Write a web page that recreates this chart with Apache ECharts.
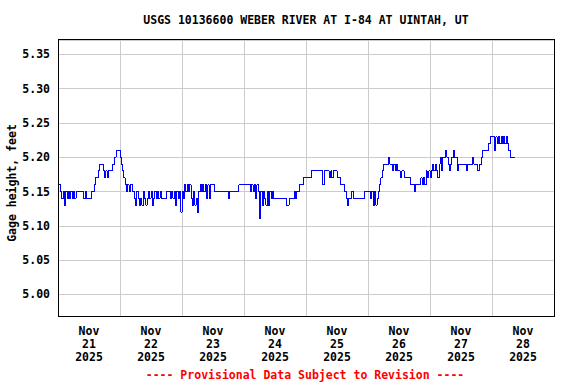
<!DOCTYPE html>
<html><head><meta charset="utf-8">
<script src="https://cdn.jsdelivr.net/npm/echarts@6/dist/echarts.min.js"></script>
<style>html,body{margin:0;padding:0;background:#fff}#c{width:576px;height:384px}#c svg path{shape-rendering:crispEdges}</style>
</head><body><div id="c"></div>
<script>
const chartTitle = 'USGS 10136600 WEBER RIVER AT I-84 AT UINTAH, UT';
const yAxisTitle = 'Gage height, feet';
const footerText = '---- Provisional Data Subject to Revision ----';
const dayLabels = ['Nov\n21\n2025','Nov\n22\n2025','Nov\n23\n2025','Nov\n24\n2025','Nov\n25\n2025','Nov\n26\n2025','Nov\n27\n2025','Nov\n28\n2025'];
// half-hourly gage height (ft), one array per day starting at 00:00
const nov21 = [5.16,5.16,5.15,5.14,5.15,5.13,5.15,5.14,5.15,5.14, 5.15,5.14,5.15,5.14,5.15,5.15,5.15,5.15,5.15,5.15, 5.14,5.15,5.14,5.14,5.14,5.14,5.15,5.15,5.16,5.17, 5.17,5.18,5.19,5.19,5.19,5.18,5.17,5.18,5.17,5.18, 5.18,5.18,5.19,5.19,5.20,5.21,5.21,5.21];
const nov22 = [5.20,5.19,5.18,5.17,5.16,5.15,5.16,5.15,5.16,5.16, 5.15,5.14,5.13,5.15,5.14,5.13,5.14,5.13,5.15,5.14, 5.13,5.14,5.15,5.14,5.15,5.13,5.14,5.15,5.14,5.15, 5.14,5.15,5.14,5.14,5.14,5.14,5.15,5.15,5.15,5.14, 5.15,5.14,5.15,5.13,5.15,5.14,5.15,5.12];
const nov23 = [5.15,5.14,5.16,5.15,5.16,5.15,5.16, 5.14,5.13,5.15,5.13,5.14,5.12,5.15, 5.16,5.15,5.16,5.15,5.16,5.14,5.16,5.14,5.16, 5.16,5.16, 5.15,5.15,5.15,5.15,5.15,5.15,5.15,5.15,5.15,5.15,5.15, 5.14,5.15, 5.15,5.15,5.15,5.15,5.15,5.15, 5.16,5.16,5.16,5.16];
const nov24 = [5.16,5.16,5.16,5.16,5.16, 5.15,5.16,5.15,5.16,5.14,5.16,5.15, 5.11, 5.15,5.13,5.15,5.14,5.13,5.15,5.13,5.15,5.14,5.15,5.14, 5.14,5.14,5.14,5.14,5.14,5.14,5.14,5.14,5.14, 5.13,5.13, 5.14,5.14,5.14,5.14, 5.15,5.14, 5.15,5.15, 5.16,5.16,5.16, 5.17,5.17];
const nov25 = [5.17,5.17,5.17,5.17, 5.18,5.18,5.18,5.18,5.18,5.18,5.18,5.18,5.18,5.16,5.18,5.18,5.18,5.18,5.17,5.18,5.17,5.18,5.18,5.18, 5.17,5.17,5.17, 5.16,5.16,5.16, 5.15, 5.14,5.13, 5.14,5.14, 5.15,5.15, 5.14,5.14,5.14,5.14,5.14,5.14,5.14,5.14, 5.15,5.15,5.15];
const nov26 = [5.15,5.15,5.14,5.15,5.13,5.15,5.13,5.14,5.15, 5.16, 5.17, 5.18, 5.19,5.19,5.19,5.19, 5.20, 5.19,5.19, 5.18, 5.19, 5.18,5.19,5.18, 5.18,5.17,5.18,5.18,5.17, 5.17,5.17,5.17,5.17, 5.16,5.16,5.16, 5.15, 5.16,5.16,5.16,5.16, 5.17,5.16,5.17,5.16, 5.18,5.17,5.18];
const nov27 = [5.17,5.18, 5.19,5.18,5.19,5.18,5.17, 5.19,5.20, 5.18,5.20, 5.20,5.21, 5.20,5.19, 5.18, 5.19, 5.20,5.21,5.20, 5.20, 5.18,5.19, 5.19,5.19,5.19,5.19,5.19,5.18,5.19,5.19,5.19,5.19,5.20,5.19,5.19,5.19,5.18,5.19,5.19, 5.20, 5.21,5.21,5.21,5.21, 5.22,5.22, 5.23];
const nov28 = [5.23,5.23, 5.21, 5.23,5.22,5.23,5.22,5.23,5.22,5.23,5.22,5.23, 5.22, 5.21,5.20,5.20,5.20,5.20,5.20];
const days = [nov21, nov22, nov23, nov24, nov25, nov26, nov27, nov28];
const sampleHours = 0.5;

const series = [];
days.forEach((arr, d) => arr.forEach((v, i) => series.push([d * 24 + i * sampleHours, v])));

const FONT = '"DejaVu Sans Mono", monospace';
const chart = echarts.init(document.getElementById('c'), null, {renderer: 'svg'});
chart.setOption({
  animation: false,
  backgroundColor: '#fff',
  grid: {left: 58, right: 22, top: 40, bottom: 68, show: false},
  xAxis: [{
    type: 'value', min: 0, max: 192, interval: 24,
    axisLine: {show: false}, axisTick: {show: false}, axisLabel: {show: false},
    splitLine: {show: true, lineStyle: {color: '#cccccc', width: 1}}
  }, {
    type: 'category', data: dayLabels, position: 'bottom', gridIndex: 0,
    axisLine: {show: false}, axisTick: {show: false}, splitLine: {show: false},
    axisLabel: {interval: 0, fontFamily: FONT, fontWeight: 'bold', fontSize: 11.5, color: '#000', lineHeight: 13, margin: 8}
  }],
  yAxis: {
    type: 'value', min: 4.9685, max: 5.371, splitNumber: 8,
    axisLine: {show: false}, axisTick: {show: false},
    axisLabel: {showMinLabel: false, showMaxLabel: false, fontFamily: FONT, fontWeight: 'bold', fontSize: 11.5, color: '#000', margin: 8,
      formatter: v => v.toFixed(2)},
    splitLine: {show: true, lineStyle: {color: '#cccccc', width: 1}}
  },
  graphic: [
    {type: 'rect', z: 100, silent: true, shape: {x: 58.5, y: 39.5, width: 496, height: 277}, style: {fill: 'none', stroke: '#000', lineWidth: 1}},
    {type: 'text', x: 306, y: 20, style: {text: chartTitle, textAlign: 'center', textVerticalAlign: 'middle', font: 'bold 11.5px ' + FONT, fill: '#000'}},
    {type: 'text', x: 305, y: 375, style: {text: footerText, textAlign: 'center', textVerticalAlign: 'middle', font: 'bold 11.5px ' + FONT, fill: '#ff0000'}},
    {type: 'text', x: 12, y: 183, rotation: Math.PI / 2, style: {text: yAxisTitle, textAlign: 'center', textVerticalAlign: 'middle', font: 'bold 11.5px ' + FONT, fill: '#000'}}
  ],
  series: [{
    type: 'line', xAxisIndex: 0, data: series, step: 'end', showSymbol: false, symbol: 'none',
    lineStyle: {color: '#0000ff', width: 1}, z: 3
  }]
});
</script></body></html>
